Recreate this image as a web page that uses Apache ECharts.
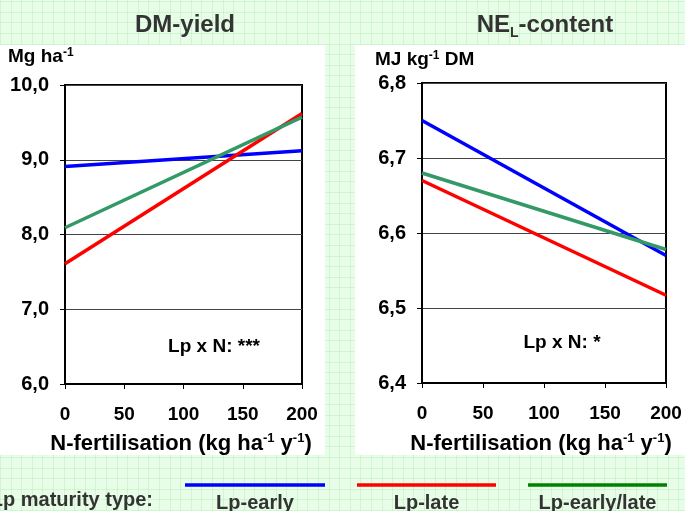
<!DOCTYPE html>
<html>
<head>
<meta charset="utf-8">
<script src="https://cdn.jsdelivr.net/npm/echarts@6/dist/echarts.min.js"></script>
<style>
  html, body { margin: 0; padding: 0; width: 685px; height: 511px; overflow: hidden; }
  body {
    background-color: #e8fde8;
    background-image:
      repeating-linear-gradient(0deg, rgba(150,225,150,0.28) 0px, rgba(150,225,150,0.28) 1px, transparent 1px, transparent 10.6px),
      repeating-linear-gradient(90deg, rgba(150,225,150,0.28) 0px, rgba(150,225,150,0.28) 1px, transparent 1px, transparent 10.6px);
  }
  #chart { width: 685px; height: 511px; }
</style>
</head>
<body>
<div id="chart"></div>
<script>
// ---- data ----
const nLevels = [0, 200];
const seriesNames = ['Lp-early', 'Lp-late', 'Lp-early/late'];
const dmEarly = [8.91, 9.12];
const dmLate = [7.61, 9.62];
const dmMix = [8.09, 9.57];
const nelEarly = [6.75, 6.57];
const nelLate = [6.67, 6.517];
const nelMix = [6.68, 6.578];
const xTicks = [0, 50, 100, 150, 200];
const dmTicks = [6.0, 7.0, 8.0, 9.0, 10.0];
const nelTicks = [6.4, 6.5, 6.6, 6.7, 6.8];

// ---- styles ----
const FONT = '"Liberation Sans", Arial, Helvetica, sans-serif';
const lineColors = ['#0000ff', '#ff0000', '#339966'];
const legendColors = ['#0000ff', '#ff0000', '#008000'];

function pairs(vals) { return nLevels.map((x, i) => [x, vals[i]]); }
const fmt = v => v.toFixed(1).replace('.', ',');

function xAxisCfg(gi) {
  return {
    type: 'value', gridIndex: gi, min: xTicks[0], max: xTicks[xTicks.length - 1],
    interval: xTicks[1] - xTicks[0],
    axisLine: { show: true, lineStyle: { color: '#000', width: 2 } },
    axisTick: { show: true, length: 5, lineStyle: { color: '#000', width: 1 } },
    axisLabel: { color: '#000', fontSize: 19, fontWeight: 'bold', fontFamily: FONT, margin: 21 },
    splitLine: { show: false }
  };
}
function yAxisCfg(gi, ticks) {
  return {
    type: 'value', gridIndex: gi, min: ticks[0], max: ticks[ticks.length - 1],
    interval: +(ticks[1] - ticks[0]).toFixed(3),
    axisLine: { show: true, lineStyle: { color: '#000', width: 2 } },
    axisTick: { show: true, length: 5, lineStyle: { color: '#000', width: 1 } },
    axisLabel: { color: '#000', fontSize: 20, fontWeight: 'bold', fontFamily: FONT, margin: 16, formatter: fmt },
    splitLine: { show: true, lineStyle: { color: '#444', width: 1 } }
  };
}
function lineSeries(name, vals, gi, color) {
  return {
    name: name, type: 'line', xAxisIndex: gi, yAxisIndex: gi, data: pairs(vals),
    symbol: 'none', lineStyle: { color: color, width: 3.5 }, itemStyle: { color: color },
    silent: true, animation: false, z: 3
  };
}

const richBase = {
  b: { fontSize: 22, fontWeight: 'bold', fontFamily: FONT, fill: '#000', color: '#000', lineHeight: 24 },
  s: { fontSize: 13, fontWeight: 'bold', fontFamily: FONT, fill: '#000', color: '#000', verticalAlign: 'top', lineHeight: 24 }
};
const richAxisName = {
  a: { fontSize: 19, fontWeight: 'bold', fontFamily: FONT, fill: '#000', lineHeight: 21 },
  s: { fontSize: 12, fontWeight: 'bold', fontFamily: FONT, fill: '#000', verticalAlign: 'top', lineHeight: 21 }
};
function txt(x, y, text, opts) {
  return {
    type: 'text', x: x, y: y, z: 10, silent: true,
    style: Object.assign({
      text: text, fill: '#000', font: 'bold 19px ' + FONT,
      align: 'center', verticalAlign: 'middle', textAlign: 'center', textVerticalAlign: 'middle'
    }, opts || {})
  };
}

const graphics = [
  { type: 'rect', z: -10, shape: { x: 0, y: 45, width: 325, height: 410 }, style: { fill: '#fff' }, silent: true },
  { type: 'rect', z: -10, shape: { x: 355, y: 45, width: 330, height: 410 }, style: { fill: '#fff' }, silent: true },
  // titles
  txt(185, 25, 'DM-yield', { fill: '#333', font: 'bold 24px ' + FONT }),
  txt(545, 25, '{t|NE}{u|L}{t|-content}', {
    fill: '#333',
    rich: {
      t: { fontSize: 24, fontWeight: 'bold', fontFamily: FONT, fill: '#333', lineHeight: 30 },
      u: { fontSize: 14, fontWeight: 'bold', fontFamily: FONT, fill: '#333', verticalAlign: 'bottom', lineHeight: 30 }
    }
  }),
  // y axis names
  txt(8, 57, '{a|Mg ha}{s|-1}', { align: 'left', textAlign: 'left', rich: richAxisName }),
  txt(375, 60, '{a|MJ kg}{s|-1}{a| DM}', { align: 'left', textAlign: 'left', rich: richAxisName }),
  // x axis names
  txt(181, 444, '{b|N-fertilisation (kg ha}{s|-1}{b| y}{s|-1}{b|)}', { rich: richBase }),
  txt(541, 444, '{b|N-fertilisation (kg ha}{s|-1}{b| y}{s|-1}{b|)}', { rich: richBase }),
  // annotations
  txt(214, 347, 'Lp x N: ***'),
  txt(562, 343, 'Lp x N: *'),
  // legend title
  txt(153, 500, 'Lp maturity type:', { fill: '#333', font: 'bold 20px ' + FONT, align: 'right', textAlign: 'right' })
];
const legendX = [[185, 325], [357, 496], [528, 667]];
seriesNames.forEach((n, i) => {
  graphics.push({ type: 'line', z: 10, silent: true,
    shape: { x1: legendX[i][0], y1: 485, x2: legendX[i][1], y2: 485 },
    style: { stroke: legendColors[i], lineWidth: 3.5 } });
  graphics.push(txt((legendX[i][0] + legendX[i][1]) / 2, 503, n, { fill: '#333', font: 'bold 20px ' + FONT }));
});

const chart = echarts.init(document.getElementById('chart'), null, { renderer: 'canvas' });
chart.setOption({
  backgroundColor: 'transparent',
  animation: false,
  grid: [
    { left: 65, top: 85, width: 237, height: 299, show: true, borderColor: '#000', borderWidth: 2, backgroundColor: 'transparent', containLabel: false },
    { left: 422, top: 83, width: 244, height: 300, show: true, borderColor: '#000', borderWidth: 2, backgroundColor: 'transparent', containLabel: false }
  ],
  xAxis: [xAxisCfg(0), xAxisCfg(1)],
  yAxis: [yAxisCfg(0, dmTicks), yAxisCfg(1, nelTicks)],
  series: [
    lineSeries(seriesNames[0], dmEarly, 0, lineColors[0]),
    lineSeries(seriesNames[1], dmLate, 0, lineColors[1]),
    lineSeries(seriesNames[2], dmMix, 0, lineColors[2]),
    lineSeries(seriesNames[0], nelEarly, 1, lineColors[0]),
    lineSeries(seriesNames[1], nelLate, 1, lineColors[1]),
    lineSeries(seriesNames[2], nelMix, 1, lineColors[2])
  ],
  graphic: graphics
});
</script>
</body>
</html>
